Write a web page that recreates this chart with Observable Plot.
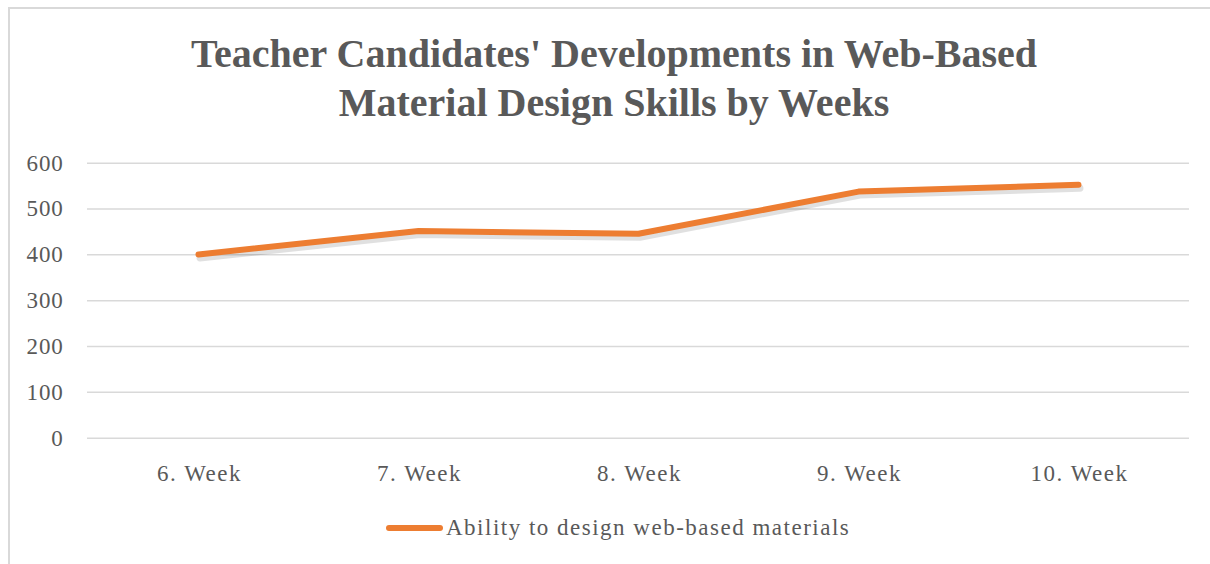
<!DOCTYPE html>
<html><head><meta charset="utf-8">
<script src="https://cdn.jsdelivr.net/npm/d3@7"></script>
<script src="https://cdn.jsdelivr.net/npm/@observablehq/plot@0.6"></script>
<style>
body{margin:0;background:#fff;}
#wrap{position:relative;width:1210px;height:564px;overflow:hidden;font-family:"Liberation Serif",serif;color:#595959;background:#fff;}
#frame{position:absolute;left:8px;top:7px;width:1230px;height:620px;border:2px solid #d9d9d9;box-sizing:border-box;}
#title{position:absolute;left:0;width:1228px;top:29px;text-align:center;font-weight:bold;font-size:40px;line-height:49px;}
#chart{position:absolute;left:0;top:140px;}
#legend{position:absolute;left:386px;top:514px;height:28px;display:flex;align-items:center;font-size:23px;letter-spacing:1.5px;white-space:nowrap;}
#legend svg{margin-right:3px;}
#chart g[aria-label="y-axis tick label"]{letter-spacing:0.8px;}
</style></head>
<body><div id="wrap"><div id="frame"></div>
<div id="title">Teacher Candidates' Developments in Web-Based<br>Material Design Skills by Weeks</div>
<div id="chart"></div>
<div id="legend"><svg width="57" height="10"><line x1="3" y1="5" x2="54" y2="5" stroke="#ED7D31" stroke-width="6" stroke-linecap="round"/></svg><span>Ability to design web-based materials</span></div>
</div>
<script>
const weeks = ["6. Week", "7. Week", "8. Week", "9. Week", "10. Week"];
const values = [401, 452, 446, 538, 553];
const yTicks = [0, 100, 200, 300, 400, 500, 600];
const seriesName = "Ability to design web-based materials";

const data = weeks.map((w, i) => ({week: w, value: values[i]}));
const font = "'Liberation Serif', serif";

const chart = Plot.plot({
  width: 1210,
  height: 360,
  marginLeft: 87,
  marginRight: 21,
  marginTop: 22.7,
  marginBottom: 62.3,
  style: {fontFamily: font, fontSize: "23px", color: "#595959", background: "transparent", letterSpacing: "1.5px"},
  x: {type: "point", domain: weeks, padding: 0.5, label: null},
  y: {domain: [0, 600], label: null},
  marks: [
    Plot.gridY(yTicks, {stroke: "#d9d9d9", strokeOpacity: 1, strokeWidth: 1.5}),
    Plot.axisY(yTicks, {tickSize: 0, tickPadding: 24, label: null, fontSize: 23, fill: "#595959"}),
    Plot.axisX({tickSize: 0, tickPadding: 26, label: null, fontSize: 23, fill: "#595959", dx: 1}),
    Plot.line(data, {x: "week", y: "value", stroke: "#000", strokeOpacity: 0.12, strokeWidth: 7, dx: 1.5, dy: 3.5, strokeLinecap: "round", strokeLinejoin: "round"}),
    Plot.line(data, {x: "week", y: "value", stroke: "#ED7D31", strokeWidth: 6, strokeLinecap: "round", strokeLinejoin: "round"})
  ]
});
document.getElementById("chart").appendChild(chart);
</script>
</body></html>
